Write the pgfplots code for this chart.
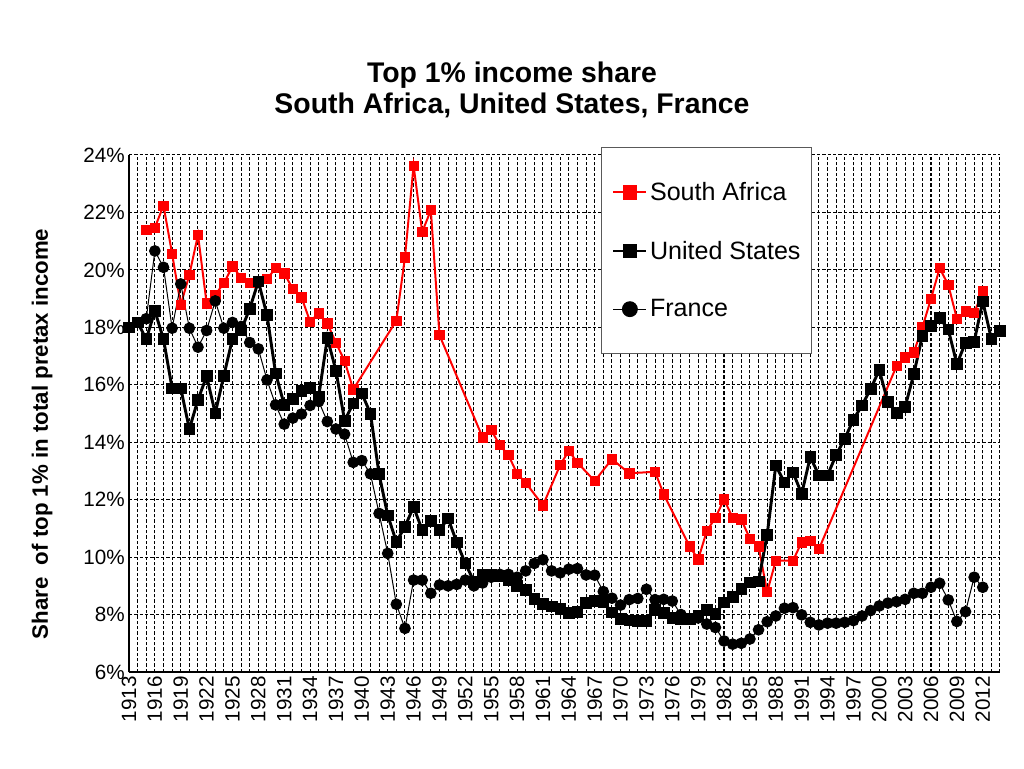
\documentclass[border=0pt]{standalone}
\usepackage{pgfplots}
\pgfplotsset{compat=1.18}
\usepackage{fontspec}
\setmainfont{Liberation Sans}
\begin{document}
\begin{tikzpicture}[x=1pt,y=1pt]
\path[use as bounding box] (-96.75,-72) rectangle (671.25,504);
\begin{axis}[
  at={(0pt,0pt)}, anchor=south west,
  scale only axis, width=653.25pt, height=387.75pt,
  xmin=1913, xmax=2014, ymin=6, ymax=24,
  axis x line*=bottom, axis y line*=left,
  axis line style={line width=1.1pt, -},
  xtick={1913,1916,...,2012},
  minor xtick={1913,...,2014},
  ytick={6,8,...,24},
  yticklabel={\pgfmathprintnumber{\tick}\%},
  /pgf/number format/1000 sep={},
  /pgf/number format/assume math mode=true,
  tick label style={font=\fontsize{15.5}{18}\selectfont, inner sep=3pt},
  xticklabel style={rotate=90, anchor=east},
  major tick length=0pt, minor tick length=0pt,
  xmajorgrids, xminorgrids, ymajorgrids,
  major grid style={black, line width=0.75pt, dash pattern=on 2.5pt off 1.5pt},
  minor grid style={black, line width=0.75pt, dash pattern=on 2.5pt off 1.5pt},
  clip=false,
  legend cell align=left,
  legend style={at={(axis description cs:0.5419,1.0155)}, anchor=north west,
    draw=gray!70!black, line width=0.75pt, fill=white,
    font=\fontsize{18.8}{23}\selectfont,
    inner xsep=8pt, inner ysep=26pt, row sep=28.9pt,
    nodes={inner sep=0pt},
    /tikz/every odd column/.append style={column sep=1.8pt}},
  legend image code/.code={\draw[mark repeat=2,mark phase=2,#1] plot coordinates {(0pt,0pt)(12.4pt,0pt)(24.8pt,0pt)};},
]
\addplot[red, line width=1.5pt, mark=square*, mark size=3.5pt, mark options={solid, line width=0.5pt},
  legend image post style={line width=1.2pt, mark size=5pt}] coordinates {
(1915,21.39)(1916,21.47)(1917,22.24)(1918,20.56)(1919,18.78)(1920,19.83)(1921,21.22)(1922,18.84)(1923,19.13)(1924,19.54)
(1925,20.12)(1926,19.73)(1927,19.54)(1928,19.6)(1929,19.68)(1930,20.06)(1931,19.88)(1932,19.33)(1933,19.05)(1934,18.2)
(1935,18.49)(1936,18.14)(1937,17.46)(1938,16.83)(1939,15.84)(1944,18.23)(1945,20.44)(1946,23.63)(1947,21.32)(1948,22.08)
(1949,17.73)(1954,14.17)(1955,14.42)(1956,13.9)(1957,13.55)(1958,12.91)(1959,12.59)(1961,11.8)(1963,13.21)(1964,13.70)
(1965,13.29)(1967,12.65)(1969,13.41)(1971,12.92)(1974,12.97)(1975,12.19)(1978,10.38)(1979,9.92)(1980,10.91)(1981,11.37)
(1982,12.01)(1983,11.37)(1984,11.31)(1985,10.64)(1986,10.38)(1987,8.78)(1988,9.88)(1990,9.88)(1991,10.52)(1992,10.57)
(1993,10.28)(2002,16.65)(2003,16.95)(2004,17.13)(2005,18.0)(2006,19.0)(2007,20.06)(2008,19.48)(2009,18.3)(2010,18.56)
(2011,18.5)(2012,19.25)
};
\addlegendentry{South Africa}
\addplot[black, line width=2.2pt, mark=square*, mark size=4pt, mark options={solid, line width=0.5pt},
  legend image post style={line width=1.8pt, mark size=5pt}] coordinates {
(1913,18.0)(1914,18.17)(1915,17.59)(1916,18.57)(1917,17.59)(1918,15.88)(1919,15.88)(1920,14.46)(1921,15.48)(1922,16.3)
(1923,15.01)(1924,16.32)(1925,17.6)(1926,17.9)(1927,18.65)(1928,19.6)(1929,18.43)(1930,16.4)(1931,15.3)(1932,15.5)
(1933,15.8)(1934,15.9)(1935,15.6)(1936,17.63)(1937,16.49)(1938,14.75)(1939,15.35)(1940,15.7)(1941,15.0)(1942,12.89)
(1943,11.46)(1944,10.53)(1945,11.06)(1946,11.75)(1947,10.94)(1948,11.27)(1949,10.94)(1950,11.35)(1951,10.52)(1952,9.78)
(1953,9.15)(1954,9.4)(1955,9.4)(1956,9.35)(1957,9.2)(1958,9.0)(1959,8.85)(1960,8.55)(1961,8.38)(1962,8.29)
(1963,8.2)(1964,8.06)(1965,8.1)(1966,8.41)(1967,8.48)(1968,8.44)(1969,8.08)(1970,7.85)(1971,7.8)(1972,7.78)
(1973,7.78)(1974,8.16)(1975,8.06)(1976,7.88)(1977,7.83)(1978,7.85)(1979,7.97)(1980,8.17)(1981,8.03)(1982,8.43)
(1983,8.61)(1984,8.9)(1985,9.12)(1986,9.16)(1987,10.78)(1988,13.19)(1989,12.6)(1990,12.95)(1991,12.2)(1992,13.49)
(1993,12.85)(1994,12.85)(1995,13.56)(1996,14.12)(1997,14.79)(1998,15.28)(1999,15.86)(2000,16.51)(2001,15.4)(2002,15.02)
(2003,15.23)(2004,16.37)(2005,17.71)(2006,18.05)(2007,18.33)(2008,17.93)(2009,16.72)(2010,17.47)(2011,17.49)(2012,18.91)
(2013,17.59)(2014,17.87)
};
\addlegendentry{United States}
\addplot[black, line width=0.75pt, mark=*, mark size=4pt, mark options={solid},
  legend image post style={line width=0.9pt, mark size=5.5pt}] coordinates {
(1915,18.3)(1916,20.66)(1917,20.09)(1918,17.97)(1919,19.51)(1920,17.97)(1921,17.31)(1922,17.89)(1923,18.92)(1924,17.97)
(1925,18.17)(1926,18.03)(1927,17.47)(1928,17.25)(1929,16.17)(1930,15.3)(1931,14.63)(1932,14.84)(1933,14.98)(1934,15.28)
(1935,15.42)(1936,14.72)(1937,14.46)(1938,14.28)(1939,13.3)(1940,13.36)(1941,12.9)(1942,11.52)(1943,10.13)(1944,8.36)
(1945,7.52)(1946,9.2)(1947,9.2)(1948,8.74)(1949,9.03)(1950,9.0)(1951,9.05)(1952,9.2)(1953,9.0)(1954,9.1)
(1955,9.3)(1956,9.4)(1957,9.4)(1958,9.3)(1959,9.52)(1960,9.78)(1961,9.91)(1962,9.52)(1963,9.45)(1964,9.58)
(1965,9.6)(1966,9.38)(1967,9.37)(1968,8.8)(1969,8.57)(1970,8.33)(1971,8.52)(1972,8.56)(1973,8.88)(1974,8.52)
(1975,8.53)(1976,8.47)(1977,8.0)(1978,7.85)(1979,7.88)(1980,7.67)(1981,7.55)(1982,7.08)(1983,6.97)(1984,7.0)
(1985,7.15)(1986,7.47)(1987,7.75)(1988,7.95)(1989,8.22)(1990,8.24)(1991,7.99)(1992,7.73)(1993,7.64)(1994,7.7)
(1995,7.7)(1996,7.73)(1997,7.79)(1998,7.95)(1999,8.14)(2000,8.3)(2001,8.4)(2002,8.45)(2003,8.53)(2004,8.74)
(2005,8.74)(2006,8.95)(2007,9.09)(2008,8.51)(2009,7.76)(2010,8.1)(2011,9.3)(2012,8.95)
};
\addlegendentry{France}
\end{axis}
\node[anchor=base, font=\bfseries\fontsize{21.3}{25}\selectfont] at (287.25,441.75) {Top 1\% income share};
\node[anchor=base, font=\bfseries\fontsize{21.3}{25}\selectfont] at (287.25,418.5) {South Africa, United States, France};
\node[rotate=90, font=\bfseries\fontsize{16.7}{20}\selectfont] at (-65.25,178.5) {Share~ of top 1\% in total pretax income};
\end{tikzpicture}
\end{document}
